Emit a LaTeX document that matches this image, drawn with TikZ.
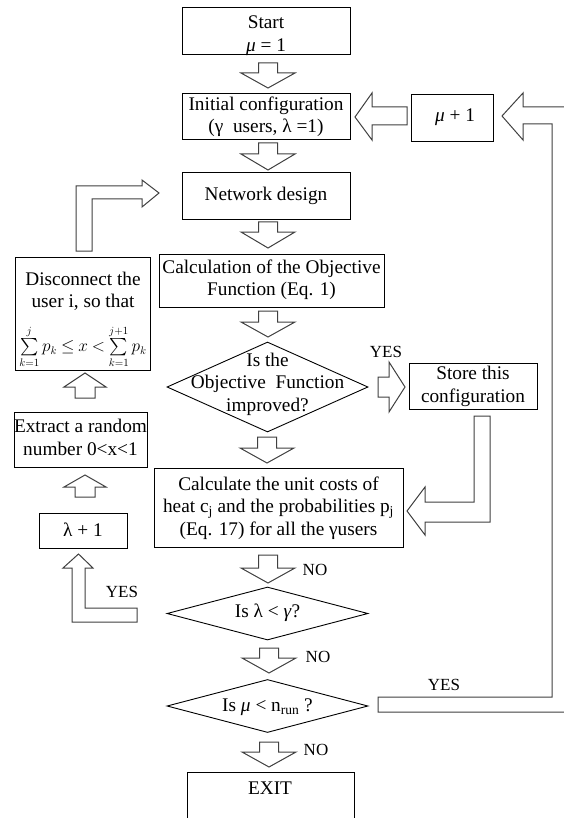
\documentclass[tikz,border=0pt]{standalone}
\usepackage{amsmath}
\usepackage{fontspec}
\setmainfont{Liberation Serif}
\usetikzlibrary{shapes.geometric}
\newcommand\mkbox[5]{\node[box, minimum width={#4-#2}, minimum height={#5-#3}] (#1) at ({(#2+#4)/2},{(#3+#5)/2}) {};}
\newcommand\vblock[6]{\draw[barrow] ({#1-#5},#2) -- ({#1+#5},#2) -- ({#1+#5},#3) -- ({#1+#6},#3) -- (#1,#4) -- ({#1-#6},#3) -- ({#1-#5},#3) -- cycle;}
\begin{document}
\begin{tikzpicture}[x=1pt,y=-1pt,
  box/.style={draw=black, line width=0.9pt, inner sep=0pt, rectangle},
  dia/.style={draw=black, line width=0.9pt, inner sep=0pt, diamond},
  txt/.style={font=\fontsize{19.3}{22.5}\selectfont, align=center, inner sep=0pt},
  lbl/.style={font=\fontsize{17}{20}\selectfont, inner sep=0pt},
  barrow/.style={draw=black!75, line width=1pt, line join=miter},
]
\useasboundingbox (0,0) rectangle (564,818);
\clip (0,0) rectangle (564,818);
\fill[white] (0,0) rectangle (564,818);

% boxes
\mkbox{start}{182}{7}{350}{54}
\mkbox{init}{182}{93}{350}{139}
\mkbox{mu}{411}{94}{493}{141}
\mkbox{net}{182}{172}{350}{219}
\mkbox{calc}{159}{254}{384}{307}
\mkbox{disc}{15}{257}{150}{370}
\mkbox{store}{409}{363}{537}{409}
\mkbox{extract}{14}{412}{147}{467}
\mkbox{calc2}{154}{468}{403}{547}
\mkbox{lam}{39}{513}{127}{548}
\mkbox{exit}{187}{772}{354}{830}

% diamonds
\node[dia, minimum width=201pt, minimum height=90pt] (d1) at (267.5,387) {};
\node[dia, minimum width=201pt, minimum height=53pt] (d2) at (267.5,613.5) {};
\node[dia, minimum width=201pt, minimum height=53pt] (d3) at (267.5,706) {};

% texts
\node[txt] (startt) at (266,35.5) {Start\\\textit{μ} = 1};
\node[txt] (initt) at (266,117) {Initial configuration\\(γ\ \ users, λ =1)};
\node[txt] (mut) at (455,117) {\textit{μ} + 1};
\node[txt] (nett) at (266,196) {Network design};
\node[txt] (calct) at (271.5,280) {Calculation of the Objective\\Function (Eq. 1)};
\node[txt] (disct) at (83,291.5) {Disconnect the\\user i, so that};
\node[txt, font=\fontsize{16}{19}\selectfont] (discf) at (83,347) {$\thickmuskip=4mu\medmuskip=2mu\sum\limits_{k=1}^{j} p_k \le x < \sum\limits_{k=1}^{j+1} p_k$};
\node[txt] (d1t) at (267.5,384) {Is the\\Objective\ \ Function\\improved?};
\node[txt] (storet) at (473,386.5) {Store this\\configuration};
\node[txt] (extractt) at (80.5,437.5) {Extract a random\\number 0<x<1};
\node[txt] (calc2t) at (278.5,508) {Calculate the unit costs of\\heat c\textsubscript{j} and the probabilities p\textsubscript{j}\\(Eq. 17) for all the γusers};
\node[txt] (lamt) at (83,530) {λ + 1};
\node[txt] (d2t) at (267.5,613) {Is λ < \textit{γ}?};
\node[txt] (d3t) at (267.5,707) {Is \textit{μ} < n\textsubscript{run} ?};
\node[txt] (exitt) at (270,788) {EXIT};

% labels
\node[lbl] (yes1) at (386,352) {YES};
\node[lbl] (yes2) at (122,592) {YES};
\node[lbl] (yes3) at (444,685) {YES};
\node[lbl] (no1) at (315,570) {NO};
\node[lbl] (no2) at (318,657) {NO};
\node[lbl] (no3) at (316,750) {NO};

% straight block arrows (down)
\vblock{268}{63}{73}{88}{9.5}{27}
\vblock{268}{143}{154}{170}{9.5}{27}
\vblock{268}{222}{232}{248}{9.5}{27}
\vblock{268}{311}{322}{337}{9.5}{27}
\vblock{267}{437}{448}{463}{9.5}{27}
\vblock{268}{555}{568}{583}{9.5}{27}
\vblock{269}{648}{658}{673}{9.5}{27}
\vblock{269}{742}{752}{767}{9.5}{27}
% up arrows on the left
\vblock{85}{398}{387}{373}{10}{21}
\vblock{85}{497}{487}{475}{10}{21}

% bent block arrows
\draw[barrow] (137,608) -- (85,608) -- (85,568) -- (93,568) -- (78.5,554) -- (63,568) -- (72,568) -- (72,622) -- (137,622) -- cycle;
\draw[barrow] (76,251) -- (76,186) -- (142,186) -- (142,180) -- (159,193) -- (142,207) -- (142,199) -- (92,199) -- (92,251) -- cycle;
\draw[barrow] (378,377) -- (389,377) -- (389,362) -- (405,387) -- (389,412) -- (389,397) -- (378,397) -- cycle;
\draw[barrow] (474,416) -- (490,416) -- (490,522) -- (425,522) -- (425,535) -- (407,511) -- (425,487) -- (425,502) -- (474,502) -- cycle;
\draw[barrow] (407,107) -- (372,107) -- (372,93) -- (355,117) -- (372,140) -- (372,125) -- (407,125) -- cycle;
\draw[barrow] (378,697) -- (552,697) -- (552,124) -- (523,124) -- (523,140) -- (502,116) -- (523,93) -- (523,107) -- (570,107) -- (570,712) -- (378,712) -- cycle;
\end{tikzpicture}
\end{document}
